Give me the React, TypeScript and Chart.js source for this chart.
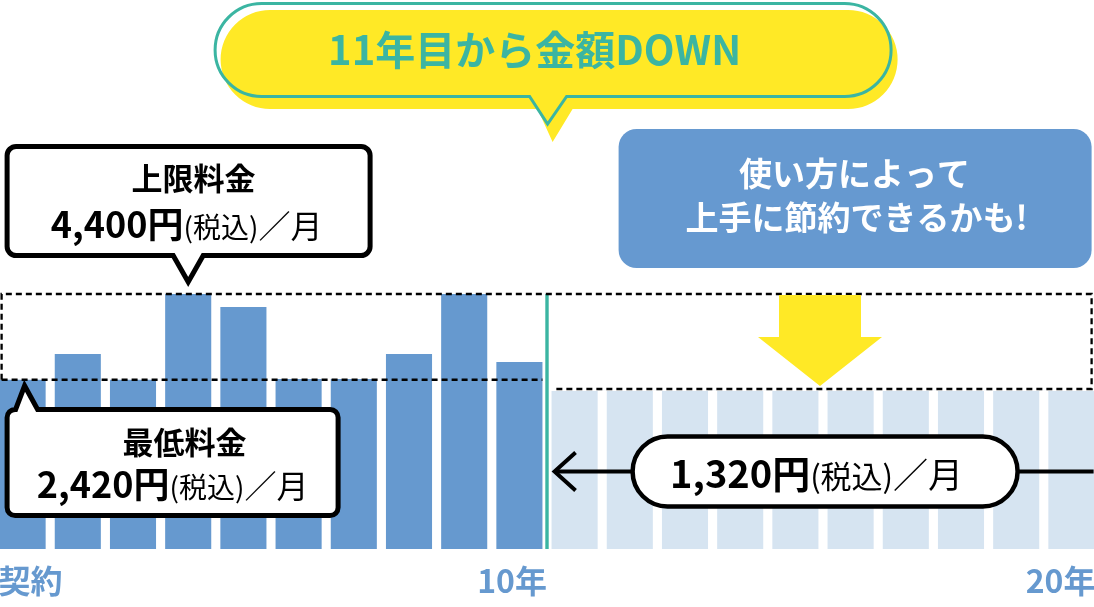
import { useEffect, useRef } from 'react';
import { Chart, registerables } from 'chart.js';

Chart.register(...registerables);

// bar heights as drawn (the picture is not to scale, so these are visual heights in yen-like units)
const axisLabels = ['契約', '', '', '', '', '', '', '', '', '10年', '', '', '', '', '', '', '', '', '', '20年'];
const firstTermHeights = [2920, 3365, 2920, 4400, 4176, 2935, 2935, 3365, 4400, 3227];
const laterTermHeights = [2726, 2726, 2726, 2726, 2726, 2726, 2726, 2726, 2726, 2726];
const capLevel = 4400; // 上限料金
const minLevel = 2920; // 最低料金
const laterLevel = 2761; // 11年目以降

const headline = '11年目から金額DOWN';
const tipLines = ['使い方によって', '上手に節約できるかも!'];
const capTitle = '上限料金';
const capPrice = '4,400円';
const minTitle = '最低料金';
const minPrice = '2,420円';
const laterPrice = '1,320円';
const taxNote = '(税込)';
const perMonth = '／月';

const DARK = '#6699cf';
const LIGHT = '#d6e4f1';
const TEAL = '#3bb5a2';
const YELLOW = '#ffe926';
const FONT = '"Noto Sans CJK JP", "Noto Sans", sans-serif';
const SHIFT = 4.6; // canvas sits a little left of the page so bar 1 starts at x=0
const P = (x: number) => x + SHIFT; // page x -> canvas x

type Ptr = { side: 'top' | 'bottom'; a: number; b: number; tx: number; ty: number };

function bubblePath(ctx: CanvasRenderingContext2D, x: number, y: number, w: number, h: number, r: number, p?: Ptr) {
  ctx.beginPath();
  ctx.moveTo(x + r, y);
  if (p && p.side === 'top') {
    ctx.lineTo(p.a, y);
    ctx.lineTo(p.tx, p.ty);
    ctx.lineTo(p.b, y);
  }
  ctx.arcTo(x + w, y, x + w, y + h, r);
  ctx.arcTo(x + w, y + h, x, y + h, r);
  if (p && p.side === 'bottom') {
    ctx.lineTo(p.b, y + h);
    ctx.lineTo(p.tx, p.ty);
    ctx.lineTo(p.a, y + h);
  }
  ctx.arcTo(x, y + h, x, y, r);
  ctx.arcTo(x, y, x + w, y, r);
  ctx.closePath();
}

type Part = { t: string; f: string };

function richText(ctx: CanvasRenderingContext2D, parts: Part[], cx: number, baseline: number, color: string) {
  let total = 0;
  const widths = parts.map((p) => {
    ctx.font = p.f;
    const w = ctx.measureText(p.t).width;
    total += w;
    return w;
  });
  let x = cx - total / 2;
  ctx.fillStyle = color;
  ctx.textAlign = 'left';
  ctx.textBaseline = 'alphabetic';
  parts.forEach((p, i) => {
    ctx.font = p.f;
    ctx.fillText(p.t, x, baseline);
    x += widths[i];
  });
}

function plainText(ctx: CanvasRenderingContext2D, t: string, x: number, y: number, font: string, color: string, align: CanvasTextAlign = 'center') {
  ctx.font = font;
  ctx.fillStyle = color;
  ctx.textAlign = align;
  ctx.textBaseline = 'middle';
  ctx.fillText(t, x, y);
}

const priceParts = (price: string, big: number, small: number, slash: number): Part[] => [
  { t: price, f: `bold ${big}px ${FONT}` },
  { t: taxNote, f: `400 ${small}px ${FONT}` },
  { t: perMonth, f: `400 ${slash}px ${FONT}` },
];

const overlay = {
  id: 'overlay',
  afterDatasetsDraw(chart: Chart) {
    const { ctx } = chart;
    const ys = chart.scales.y;
    const meta = chart.getDatasetMeta(0);
    const bar = (i: number) => {
      const el: any = meta.data[i];
      return { cx: el.x, left: el.x - el.width / 2, right: el.x + el.width / 2 };
    };
    const yCap = ys.getPixelForValue(capLevel);
    const yMin = ys.getPixelForValue(minLevel);
    const yLater = ys.getPixelForValue(laterLevel);
    const yBase = ys.getPixelForValue(0);

    ctx.save();

    // boundary between year 10 and 11
    const split = (bar(9).right + bar(10).left) / 2;
    ctx.fillStyle = TEAL;
    ctx.fillRect(split - 1.7, yCap, 3.4, yBase - yCap);

    // dashed boxes
    ctx.strokeStyle = '#000';
    ctx.lineWidth = 2.3;
    ctx.setLineDash([6, 4]);
    const leftEdge = P(2);
    const rightEdge = P(1092);
    ctx.beginPath();
    ctx.moveTo(leftEdge, yMin);
    ctx.lineTo(leftEdge, yCap);
    ctx.lineTo(rightEdge, yCap);
    ctx.lineTo(rightEdge, yLater);
    ctx.lineTo(bar(10).left + 1, yLater);
    ctx.moveTo(leftEdge, yMin);
    ctx.lineTo(bar(9).right, yMin);
    ctx.stroke();
    ctx.setLineDash([]);

    // yellow down arrow
    const ax = (bar(14).cx + bar(15).cx) / 2 - 3;
    ctx.fillStyle = YELLOW;
    ctx.beginPath();
    ctx.moveTo(ax - 41, yCap + 1);
    ctx.lineTo(ax + 41, yCap + 1);
    ctx.lineTo(ax + 41, 337);
    ctx.lineTo(ax + 62, 337);
    ctx.lineTo(ax, yLater - 3);
    ctx.lineTo(ax - 62, 337);
    ctx.lineTo(ax - 41, 337);
    ctx.closePath();
    ctx.fill();

    // headline bubble
    bubblePath(ctx, P(221), 10, 677, 99, 49.5, { side: 'bottom', a: P(538), b: P(573), tx: P(553), ty: 142 });
    ctx.fillStyle = YELLOW;
    ctx.fill();
    bubblePath(ctx, P(215.5), 3.5, 676, 93, 46.5, { side: 'bottom', a: P(530), b: P(567), tx: P(548), ty: 124 });
    ctx.strokeStyle = TEAL;
    ctx.lineWidth = 3;
    ctx.lineJoin = 'miter';
    ctx.stroke();
    plainText(ctx, headline, P(535), 50, `bold 40px ${FONT}`, TEAL);

    // 上限料金 callout
    const capTip = bar(3).cx;
    bubblePath(ctx, P(7.5), 146.5, 363, 109, 9, { side: 'bottom', a: capTip - 15, b: capTip + 15, tx: capTip, ty: yCap - 12 });
    ctx.fillStyle = '#fff';
    ctx.fill();
    ctx.strokeStyle = '#000';
    ctx.lineWidth = 5;
    ctx.stroke();
    plainText(ctx, capTitle, P(194), 178, `bold 31px ${FONT}`, '#000');
    richText(ctx, priceParts(capPrice, 36, 28, 32), P(187), 238, '#000');

    // 最低料金 callout
    const minTip = bar(0).cx + 2;
    bubblePath(ctx, P(7.5), 409.5, 331, 106, 8, { side: 'top', a: P(16), b: P(38), tx: minTip, ty: yMin + 6 });
    ctx.fillStyle = '#fff';
    ctx.fill();
    ctx.stroke();
    plainText(ctx, minTitle, P(185), 442, `bold 31px ${FONT}`, '#000');
    richText(ctx, priceParts(minPrice, 36, 28, 32), P(173), 498, '#000');

    // blue note
    bubblePath(ctx, P(619), 129, 473, 139, 18);
    ctx.fillStyle = '#6699d0';
    ctx.fill();
    plainText(ctx, tipLines[0], P(855), 173, `bold 33px ${FONT}`, '#fff');
    plainText(ctx, tipLines[1], P(857), 217, `bold 33px ${FONT}`, '#fff');

    // 1,320 pill with arrow
    const lineY = 471.5;
    const arrowTip = bar(10).left + 3;
    ctx.strokeStyle = '#000';
    ctx.lineWidth = 4;
    ctx.beginPath();
    ctx.moveTo(arrowTip + 1, lineY);
    ctx.lineTo(P(640), lineY);
    ctx.moveTo(P(1010), lineY);
    ctx.lineTo(P(1094), lineY);
    ctx.stroke();
    ctx.beginPath();
    ctx.moveTo(arrowTip + 21, lineY - 19);
    ctx.lineTo(arrowTip, lineY);
    ctx.lineTo(arrowTip + 21, lineY + 19);
    ctx.stroke();
    bubblePath(ctx, P(633), 436.5, 385, 70, 35);
    ctx.fillStyle = '#fff';
    ctx.fill();
    ctx.lineWidth = 4.5;
    ctx.stroke();
    richText(ctx, priceParts(laterPrice, 38, 31, 35), P(817), 488, '#000');

    // axis labels under the bars
    const labelFont = `bold 32px ${FONT}`;
    plainText(ctx, axisLabels[0], bar(0).left - 1, 581, labelFont, DARK, 'left');
    plainText(ctx, axisLabels[9], split, 581, labelFont, DARK, 'right');
    plainText(ctx, axisLabels[19], bar(19).right + 1, 581, labelFont, DARK, 'right');

    ctx.restore();
  },
};

export default function App() {
  const canvasRef = useRef<HTMLCanvasElement>(null);

  useEffect(() => {
    if (!canvasRef.current) return;
    const heights = [...firstTermHeights, ...laterTermHeights];
    const colors = heights.map((_, i) => (i < firstTermHeights.length ? DARK : LIGHT));
    const chart = new Chart(canvasRef.current, {
      type: 'bar',
      data: {
        labels: axisLabels,
        datasets: [
          {
            data: heights,
            backgroundColor: colors,
            borderWidth: 0,
            barPercentage: 0.835,
            categoryPercentage: 1,
          },
        ],
      },
      options: {
        animation: false,
        responsive: true,
        maintainAspectRatio: false,
        layout: { padding: { top: 294, bottom: 58, left: 0, right: 0 } },
        plugins: { legend: { display: false }, tooltip: { enabled: false } },
        scales: {
          x: { display: false },
          y: { display: false, min: 0, max: capLevel },
        },
      },
      plugins: [overlay],
    });
    return () => chart.destroy();
  }, []);

  return (
    <div style={{ position: 'absolute', left: 0, top: 0, width: 1094, height: 607, overflow: 'hidden', background: '#fff' }}>
      <div style={{ position: 'absolute', left: -SHIFT, top: 0, width: 1104, height: 607 }}>
        <canvas ref={canvasRef} />
      </div>
    </div>
  );
}
